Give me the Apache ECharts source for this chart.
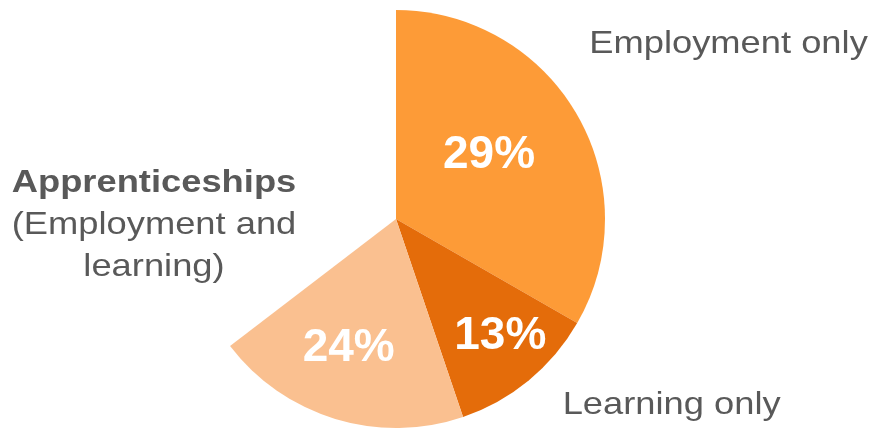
<!DOCTYPE html>
<html>
<head>
<meta charset="utf-8">
<script src="https://cdn.jsdelivr.net/npm/echarts@6/dist/echarts.min.js"></script>
<style>
  html, body { margin: 0; padding: 0; background: #ffffff; }
  #chart { width: 876px; height: 430px; }
</style>
</head>
<body>
<div id="chart"></div>
<script>
// Category names
var categories = ['Employment only', 'Learning only', 'Apprenticeships'];
// Printed percentage labels on the slices
var sliceLabels = ['29%', '13%', '24%'];
// Angular shares of the circle as drawn (percent of full circle)
var sliceValues = [33.3, 11.5, 19.8];
// Undrawn remainder of the circle
var remainderValue = 35.4;

var sliceColors = ['#FD9B37', '#E46C0A', '#FAC090'];
var labelNudge = [[0, -10], [36, 34], [-16, 26]];
var textColor = '#595959';
var fontFamily = '"Liberation Sans", Arial, sans-serif';
var stretch = 1.135;

var pieData = sliceValues.map(function (v, i) {
  return {
    name: categories[i],
    value: v,
    itemStyle: { color: sliceColors[i] }
  };
});
pieData.push({
  name: '',
  value: remainderValue,
  itemStyle: { color: 'rgba(0,0,0,0)' },
  label: { show: false },
  labelLine: { show: false },
  emphasis: { disabled: true },
  tooltip: { show: false }
});

var chart = echarts.init(document.getElementById('chart'), null, { renderer: 'canvas' });
chart.setOption({
  animation: false,
  backgroundColor: '#ffffff',
  series: [{
    type: 'pie',
    center: [396, 219],
    radius: [0, 209],
    startAngle: 90,
    clockwise: true,
    avoidLabelOverlap: false,
    itemStyle: { borderWidth: 0 },
    label: {
      show: true,
      position: 'inside',
      color: '#ffffff',
      fontFamily: fontFamily,
      fontWeight: 'bold',
      fontSize: 46,
      formatter: function (p) { return sliceLabels[p.dataIndex] || ''; }
    },
    labelLayout: function (params) {
      var n = labelNudge[params.dataIndex] || [0, 0];
      return { dx: n[0], dy: n[1] };
    },
    labelLine: { show: false },
    emphasis: { disabled: true },
    data: pieData
  }],
  graphic: [
    {
      type: 'text',
      x: 728.5, y: 44.6,
      scaleX: stretch,
      style: {
        text: categories[0],
        x: 0, y: 0,
        align: 'center', verticalAlign: 'middle',
        fill: textColor,
        font: '32px ' + fontFamily
      }
    },
    {
      type: 'text',
      x: 671.7, y: 405.6,
      scaleX: stretch,
      style: {
        text: categories[1],
        x: 0, y: 0,
        align: 'center', verticalAlign: 'middle',
        fill: textColor,
        font: '32px ' + fontFamily
      }
    },
    {
      type: 'text',
      x: 154, y: 162,
      scaleX: stretch,
      style: {
        text: '{b|' + categories[2] + '}\n(Employment and\nlearning)',
        x: 0, y: 0,
        align: 'center', verticalAlign: 'top',
        fill: textColor,
        fontFamily: fontFamily,
        fontSize: 32,
        lineHeight: 42,
        rich: {
          b: {
            fontWeight: 'bold',
            fontFamily: fontFamily,
            fontSize: 32,
            lineHeight: 42,
            fill: textColor
          }
        }
      }
    }
  ]
});
</script>
</body>
</html>
